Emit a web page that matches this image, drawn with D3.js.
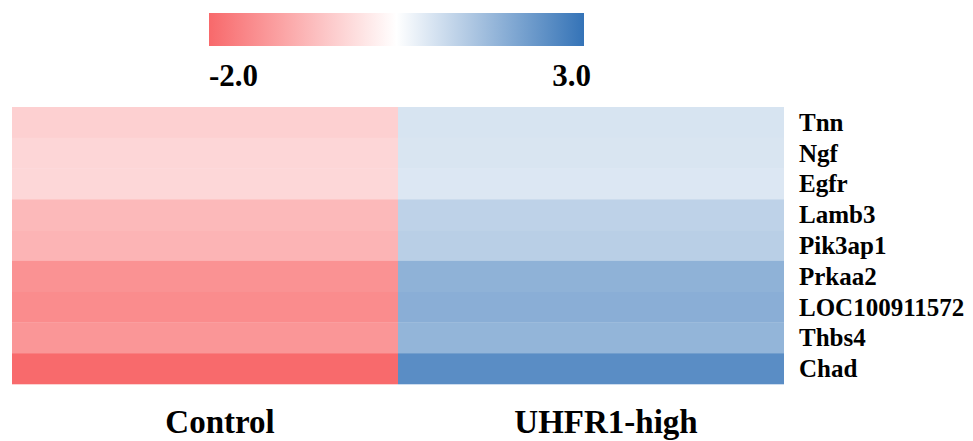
<!DOCTYPE html>
<html>
<head>
<meta charset="utf-8">
<script src="https://cdn.jsdelivr.net/npm/d3@7"></script>
<style>
  body { margin: 0; background: #fff; }
  text { font-family: "Liberation Serif", "Times New Roman", serif; font-weight: bold; fill: #000; }
</style>
</head>
<body>
<svg width="973" height="441"></svg>
<script>
// groups (columns) and genes (rows)
var groups = ["Control", "UHFR1-high"];
var genes = ["Tnn", "Ngf", "Egfr", "Lamb3", "Pik3ap1", "Prkaa2", "LOC100911572", "Thbs4", "Chad"];
// values
var control = [-0.28, -0.18, -0.16, -0.67, -0.75, -1.32, -1.42, -1.25, -1.98];
var uhfr1 = [0.99, 0.97, 0.93, 1.30, 1.36, 1.88, 1.94, 1.83, 2.53];
var scaleTicks = [-2.0, 3.0];

var svg = d3.select("svg");

var color = d3.scaleLinear()
  .domain([-2, 0.5, 3])
  .range(["#f8696b", "#ffffff", "#3473b7"]);

var x = d3.scaleBand().domain(groups).range([12, 784]);
var y = d3.scaleBand().domain(genes).range([107, 384]);

var cells = [];
genes.forEach(function(g, i) {
  cells.push({ gene: g, group: groups[0], v: control[i] });
  cells.push({ gene: g, group: groups[1], v: uhfr1[i] });
});

svg.selectAll("rect.cell").data(cells).enter().append("rect")
  .attr("class", "cell")
  .attr("x", function(d) { return x(d.group); })
  .attr("y", function(d) { return y(d.gene); })
  .attr("width", x.bandwidth())
  .attr("height", y.bandwidth() + 0.3)
  .attr("fill", function(d) { return color(d.v); });

// gene labels
svg.selectAll("text.gene").data(genes).enter().append("text")
  .attr("class", "gene")
  .attr("x", 799)
  .attr("y", function(d) { return y(d) + y.bandwidth() / 2 + 8.5; })
  .style("font-size", "25px")
  .text(function(d) { return d; });

// group labels
svg.selectAll("text.group").data(groups).enter().append("text")
  .attr("class", "group")
  .attr("x", function(d) { return x(d) + x.bandwidth() / 2 + 15; })
  .attr("y", 433)
  .attr("text-anchor", "middle")
  .style("font-size", "33px")
  .text(function(d) { return d; });

// colour bar
var bar = d3.scaleLinear().domain(d3.extent(scaleTicks)).range([209, 584]);
var grad = svg.append("defs").append("linearGradient").attr("id", "cbar");
d3.range(0, 1.0001, 0.1).forEach(function(t) {
  var v = scaleTicks[0] + t * (scaleTicks[1] - scaleTicks[0]);
  grad.append("stop").attr("offset", t).attr("stop-color", color(v));
});
svg.append("rect")
  .attr("x", bar.range()[0]).attr("y", 13)
  .attr("width", bar.range()[1] - bar.range()[0]).attr("height", 33)
  .attr("fill", "url(#cbar)");

svg.selectAll("text.tick").data(scaleTicks).enter().append("text")
  .attr("class", "tick")
  .attr("x", function(d, i) { return i === 0 ? bar(d) : bar(d) + 7; })
  .attr("y", 86)
  .attr("text-anchor", function(d, i) { return i === 0 ? "start" : "end"; })
  .style("font-size", "31px")
  .text(function(d) { return d.toFixed(1); });
</script>
</body>
</html>
